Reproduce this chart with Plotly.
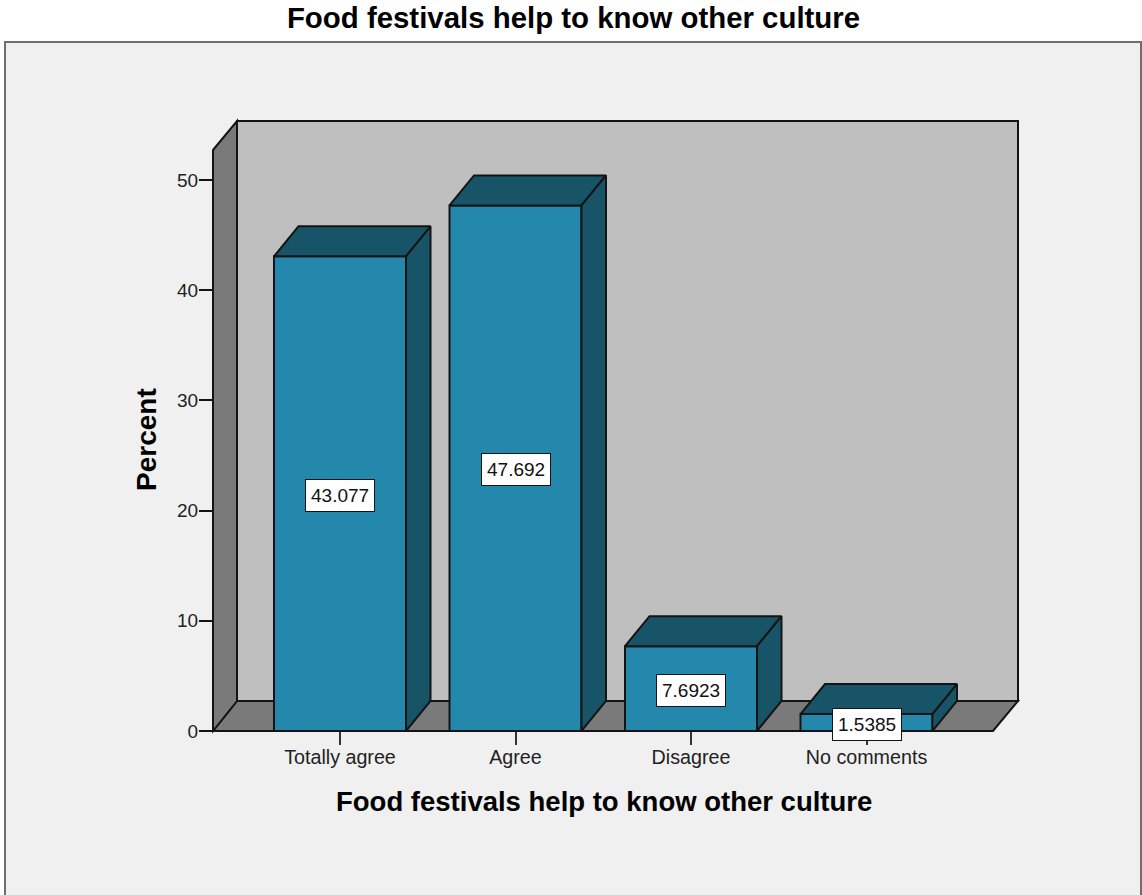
import plotly.graph_objects as go

categories = ["Totally agree", "Agree", "Disagree", "No comments"]
percent = [43.077, 47.692, 7.6923, 1.5385]
labels = ["43.077", "47.692", "7.6923", "1.5385"]
y_ticks = [0, 10, 20, 30, 40, 50]
title_text = "Food festivals help to know other culture"
y_title = "Percent"

FONT = "Liberation Sans, Arial, sans-serif"
FRONT, DARK, WALL, BACK, PANEL, INK = "#2388ac", "#175468", "#7a7a7a", "#bfbfbf", "#f0f0f0", "#141414"

# plot rectangle in page pixels
L, R, T, B = 213, 1018, 121, 731
W, H = 1142, 895
xp = lambda v: (v - L) / (R - L)
yp = lambda v: (B - v) / (B - T)
def path(pts):
    return "M " + " L ".join(f"{xp(a):.5f},{yp(b):.5f}" for a, b in pts) + " Z"

PER_CAT = 175.5
PER_UNIT = 11.02
x_lo = (L - 340) / PER_CAT
x_hi = (R - 340) / PER_CAT
y_hi = (B - T) / PER_UNIT
dx = 24.5 / PER_CAT
dy = 30 / PER_UNIT
bw = 132 / PER_CAT

fig = go.Figure()
xs = list(range(len(categories)))
fig.add_trace(go.Bar(x=xs, y=percent, width=bw, cliponaxis=False, showlegend=False,
                     marker=dict(color=FRONT, line=dict(color=INK, width=2))))
for i, v in zip(xs, percent):
    a, b = i - bw / 2, i + bw / 2
    fig.add_trace(go.Scatter(x=[a, b, b + dx, a + dx, a], y=[v, v, v + dy, v + dy, v],
                             mode="lines", fill="toself", fillcolor=DARK, cliponaxis=False,
                             line=dict(color=INK, width=2), showlegend=False, hoverinfo="skip"))
    fig.add_trace(go.Scatter(x=[b, b + dx, b + dx, b, b], y=[0, dy, v + dy, v, 0],
                             mode="lines", fill="toself", fillcolor=DARK, cliponaxis=False,
                             line=dict(color=INK, width=2), showlegend=False, hoverinfo="skip"))
    fig.add_annotation(x=i, y=v / 2, text=labels[i], showarrow=False, yshift=-1.5,
                       bgcolor="white", bordercolor=INK, borderwidth=1, borderpad=5,
                       font=dict(family=FONT, size=19, color="#111"))

# axis titles centred on the front floor edge / wall, as in the reference
fig.add_annotation(xref="paper", yref="paper", x=xp(603.5), y=yp(802), text=title_text, showarrow=False,
                   xanchor="center", yanchor="middle",
                   font=dict(family=FONT, size=27.5, color="#000", weight="bold"))
fig.add_annotation(xref="paper", yref="paper", x=xp(147), y=yp(440), text=y_title, showarrow=False,
                   textangle=-90, xanchor="center", yanchor="middle",
                   font=dict(family=FONT, size=28, color="#000", weight="bold"))

line = dict(color=INK, width=2)
shapes = [
    dict(type="rect", xref="paper", yref="paper", x0=xp(5), x1=xp(1141), y0=yp(42), y1=yp(899),
         fillcolor=PANEL, line=dict(color="#6e6e6e", width=2), layer="below"),
    dict(type="path", xref="paper", yref="paper", path=path([(237, 121), (1018, 121), (1018, 701), (237, 701)]),
         fillcolor=BACK, line=line, layer="below"),
    dict(type="path", xref="paper", yref="paper", path=path([(213, 731), (237, 701), (1018, 701), (993, 731)]),
         fillcolor=WALL, line=line, layer="below"),
    dict(type="path", xref="paper", yref="paper", path=path([(213, 150), (237, 121), (237, 701), (213, 731)]),
         fillcolor=WALL, line=line, layer="below"),
]

fig.update_layout(
    width=W, height=H, autosize=False,
    margin=dict(l=L, r=W - R, t=T, b=H - B, pad=0),
    paper_bgcolor="white", plot_bgcolor="rgba(0,0,0,0)",
    shapes=shapes, showlegend=False,
    title=dict(text=title_text, x=573.5 / W, xanchor="center", y=1 - 18 / H, yanchor="middle",
               font=dict(family=FONT, size=29.4, color="#000", weight="bold")),
    font=dict(family=FONT),
    xaxis=dict(range=[x_lo, x_hi], tickvals=xs, ticktext=categories, ticks="outside", ticklen=13,
               tickwidth=2, tickcolor="#333", showgrid=False, zeroline=False, showline=False,
               tickfont=dict(size=19.7, color="#222"), ticklabelstandoff=-5),
    yaxis=dict(range=[0, y_hi], tickvals=y_ticks, ticks="outside", ticklen=13, tickwidth=2,
               tickcolor=INK, showgrid=False, zeroline=False, showline=False,
               tickfont=dict(size=19, color="#222"), ticklabelstandoff=-3),
)
fig.write_html("out.html", post_script="document.body.style.margin='0';",
               config={"displayModeBar": False})
